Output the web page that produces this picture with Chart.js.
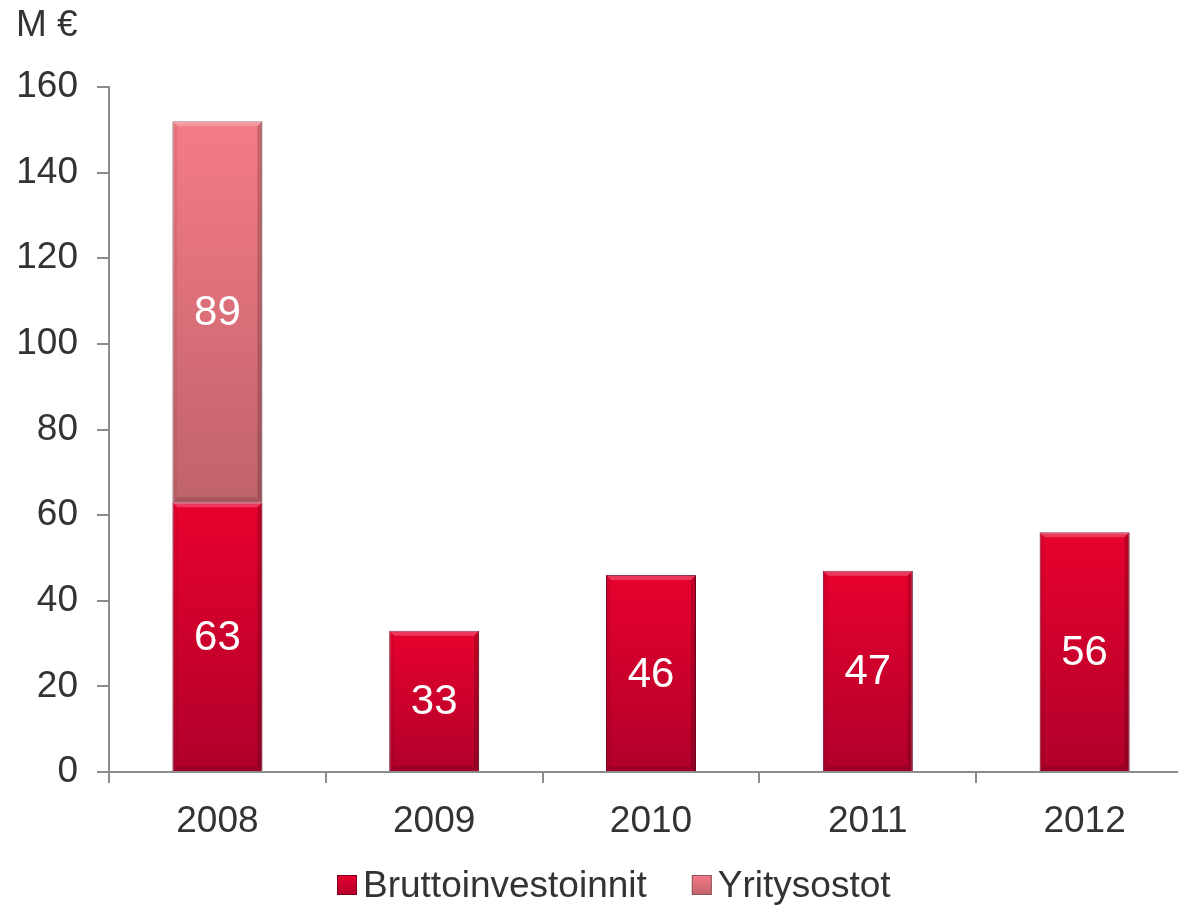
<!DOCTYPE html>
<html>
<head>
<meta charset="utf-8">
<script src="https://cdn.jsdelivr.net/npm/chart.js@4/dist/chart.umd.min.js"></script>
<style>
  html, body { margin: 0; padding: 0; background: #fff; overflow: hidden; }
  #wrap { width: 1178px; height: 905px; overflow: hidden; }
</style>
</head>
<body>
<div id="wrap"><canvas id="chart" width="1200" height="905"></canvas></div>
<script>
// chart values
const years = ['2008', '2009', '2010', '2011', '2012'];
const bruttoinvestoinnit = [63, 33, 46, 47, 56];
const yritysostot = [89, null, null, null, null];
const yTicks = [0, 20, 40, 60, 80, 100, 120, 140, 160];

const textColor = '#333333';
const axisColor = '#8c8c8c';
const fontFamily = '"Liberation Sans", Arial, sans-serif';

// per-bar vertical gradient, top colour -> bottom colour
function barGradient(topColor, bottomColor) {
    return (ctx) => {
        const chart = ctx.chart;
        const y = chart.scales && chart.scales.y;
        if (!y || ctx.raw == null || !chart.chartArea) return topColor;
        let base = 0;
        for (let i = 0; i < ctx.datasetIndex; i++) {
            base += chart.data.datasets[i].data[ctx.dataIndex] || 0;
        }
        const top = y.getPixelForValue(base + ctx.raw);
        const bottom = y.getPixelForValue(base);
        const g = chart.ctx.createLinearGradient(0, top, 0, bottom);
        g.addColorStop(0, topColor);
        g.addColorStop(1, bottomColor);
        return g;
    };
}

const series = [
    { label: 'Bruttoinvestoinnit', data: bruttoinvestoinnit, top: '#e8012e', bottom: '#b0002a', edge: '#7e0020' },
    { label: 'Yritysostot', data: yritysostot, top: '#f57b86', bottom: '#c0636b', edge: '#8a5a5f' }
];

// small bevel: light band on top, darker bands on the sides
const bevel = {
    id: 'bevel',
    afterDatasetsDraw(chart) {
        const ctx = chart.ctx;
        ctx.save();
        chart.data.datasets.forEach((ds, di) => {
            chart.getDatasetMeta(di).data.forEach((bar, i) => {
                if (ds.data[i] == null) return;
                const l = bar.x - bar.width / 2, r = bar.x + bar.width / 2;
                const t = bar.y, b = bar.base, d = 5;
                ctx.fillStyle = 'rgba(255,255,255,0.22)';
                ctx.beginPath();
                ctx.moveTo(l, t); ctx.lineTo(r, t); ctx.lineTo(r - d, t + d); ctx.lineTo(l + d, t + d);
                ctx.closePath(); ctx.fill();
                ctx.fillStyle = 'rgba(0,0,0,0.18)';
                ctx.beginPath();
                ctx.moveTo(r, t); ctx.lineTo(r, b); ctx.lineTo(r - d, b - d); ctx.lineTo(r - d, t + d);
                ctx.closePath(); ctx.fill();
                ctx.fillStyle = 'rgba(0,0,0,0.06)';
                ctx.beginPath();
                ctx.moveTo(l, t); ctx.lineTo(l, b); ctx.lineTo(l + d, b - d); ctx.lineTo(l + d, t + d);
                ctx.closePath(); ctx.fill();
                ctx.fillStyle = 'rgba(0,0,0,0.12)';
                ctx.beginPath();
                ctx.moveTo(l, b); ctx.lineTo(r, b); ctx.lineTo(r - d, b - d); ctx.lineTo(l + d, b - d);
                ctx.closePath(); ctx.fill();
            });
        });
        ctx.restore();
    }
};

const valueLabels = {
    id: 'valueLabels',
    afterDatasetsDraw(chart) {
        const ctx = chart.ctx;
        ctx.save();
        ctx.font = `42px ${fontFamily}`;
        ctx.fillStyle = '#ffffff';
        ctx.textAlign = 'center';
        ctx.textBaseline = 'middle';
        chart.data.datasets.forEach((ds, di) => {
            const meta = chart.getDatasetMeta(di);
            meta.data.forEach((bar, i) => {
                const v = ds.data[i];
                if (v == null) return;
                ctx.fillText(String(v), bar.x, (bar.y + bar.base) / 2 + 2);
            });
        });
        ctx.restore();
    }
};

// unit label and legend
const extras = {
    id: 'extras',
    afterDraw(chart) {
        const ctx = chart.ctx;
        ctx.save();
        ctx.font = `37px ${fontFamily}`;
        ctx.fillStyle = textColor;
        ctx.textBaseline = 'middle';
        ctx.textAlign = 'left';
        ctx.fillText('M €', 16, 26);

        const box = 20, gap = 6, itemGap = 45;
        let x = 337;
        const yMid = 885;
        series.forEach((s) => {
            const g = ctx.createLinearGradient(0, yMid - box / 2, 0, yMid + box / 2);
            g.addColorStop(0, s.top);
            g.addColorStop(1, s.bottom);
            ctx.fillStyle = g;
            ctx.fillRect(x, yMid - box / 2, box, box);
            ctx.strokeStyle = s.edge;
            ctx.lineWidth = 1;
            ctx.strokeRect(x + 0.5, yMid - box / 2 + 0.5, box - 1, box - 1);
            ctx.fillStyle = textColor;
            ctx.fillText(s.label, x + box + gap, yMid + 2);
            x += box + gap + ctx.measureText(s.label).width + itemGap;
        });
        ctx.restore();
    }
};

new Chart(document.getElementById('chart'), {
    type: 'bar',
    data: {
        labels: years,
        datasets: series.map(s => ({
            label: s.label,
            data: s.data,
            backgroundColor: barGradient(s.top, s.bottom),
            borderColor: s.edge,
            borderWidth: 1,
            borderSkipped: 'bottom',
            categoryPercentage: 1,
            barPercentage: 0.415
        }))
    },
    options: {
        responsive: false,
        animation: false,
        devicePixelRatio: 1,
        layout: { padding: { left: 0, right: 7, top: 87, bottom: 0 } },
        scales: {
            x: {
                stacked: true,
                grid: {
                    drawOnChartArea: false,
                    color: axisColor,
                    lineWidth: 2,
                    tickLength: 11,
                    offset: true
                },
                border: { color: axisColor, width: 2 },
                ticks: {
                    color: textColor,
                    font: { family: fontFamily, size: 37 },
                    padding: 17
                },
                afterFit(scale) { scale.height = 133; }
            },
            y: {
                stacked: true,
                min: 0,
                max: 160,
                afterBuildTicks(scale) { scale.ticks = yTicks.map(v => ({ value: v })); },
                grid: {
                    drawOnChartArea: false,
                    color: axisColor,
                    lineWidth: 2,
                    tickLength: 12
                },
                border: { color: axisColor, width: 2 },
                ticks: {
                    color: textColor,
                    font: { family: fontFamily, size: 37 },
                    padding: 19
                },
                afterFit(scale) { scale.width = 109; }
            }
        },
        plugins: {
            legend: { display: false },
            tooltip: { enabled: false }
        }
    },
    plugins: [bevel, valueLabels, extras]
});
</script>
</body>
</html>
